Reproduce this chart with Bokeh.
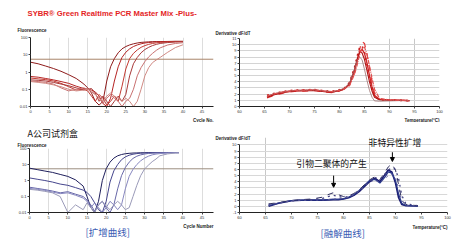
from bokeh.plotting import figure
from bokeh.layouts import column, row
from bokeh.models import (Title, FixedTicker, Range1d, Label, Arrow, NormalHead,
                          CustomJSTickFormatter)
from bokeh.embed import file_html
from bokeh.resources import INLINE

# ---------------- data ----------------
# Amplification plot (SYBR Green Realtime PCR Master Mix -Plus-)
cycles_a = [0, 2, 4, 6, 8, 10, 12, 14, 15, 16, 17, 18, 19, 20, 21, 22, 23, 24, 25, 26,
            27, 28, 29, 30, 31, 32, 33, 34, 36, 38, 40]
amp_plus_1 = [3.7, 3.0, 2.2, 1.6, 1.1, 0.7, 0.42, 0.2, 0.12, 0.06, 0.02, 0.012, 0.02, 0.3, 2.0, 6.0,
              13, 22, 30, 37, 43, 48, 52, 54, 56, 57, 58, 58, 59, 60, 60]
amp_plus_2 = [0.55, 0.5, 0.42, 0.35, 0.28, 0.22, 0.15, 0.11, 0.1, 0.09, 0.07, 0.04, 0.015, 0.01, 0.03, 0.3,
              2.0, 7.0, 14, 22, 30, 37, 43, 48, 51, 54, 56, 57, 58, 59, 59]
amp_plus_3 = [0.45, 0.4, 0.36, 0.3, 0.22, 0.14, 0.09, 0.1, 0.08, 0.04, 0.02, 0.05, 0.03, 0.012, 0.02, 0.04,
              0.02, 0.15, 1.5, 6.0, 12, 19, 27, 34, 40, 45, 49, 52, 55, 57, 58]
amp_plus_4 = [0.35, 0.33, 0.3, 0.25, 0.2, 0.16, 0.12, 0.09, 0.1, 0.11, 0.06, 0.02, 0.04, 0.02, 0.01, 0.02,
              0.04, 0.02, 0.05, 0.6, 3.0, 7.0, 13, 20, 27, 34, 40, 45, 51, 55, 57]
amp_plus_5 = [0.3, 0.28, 0.25, 0.2, 0.12, 0.08, 0.1, 0.12, 0.1, 0.07, 0.05, 0.03, 0.015, 0.03, 0.05, 0.03,
              0.02, 0.01, 0.02, 0.03, 0.1, 0.6, 1.8, 4.0, 7.5, 12, 18, 25, 37, 45, 50]
amp_plus_6 = [0.28, 0.25, 0.22, 0.18, 0.14, 0.1, 0.08, 0.09, 0.1, 0.08, 0.05, 0.03, 0.02, 0.04, 0.06, 0.04,
              0.03, 0.02, 0.03, 0.02, 0.01, 0.02, 0.1, 0.6, 1.8, 3.5, 5.0, 7.0, 14, 26, 38]
threshold_plus = 5.5

# Amplification plot (A company kit)
cycles_b = [0, 2, 4, 6, 8, 10, 12, 14, 15, 16, 17, 18, 19, 20, 21, 22, 23, 24, 25, 26,
            27, 28, 29, 30, 31, 32, 33, 34, 36, 38, 39]
amp_a_1 = [5.9, 4.8, 3.9, 3.2, 2.4, 1.8, 1.1, 0.45, 0.1, 0.02, 0.01, 0.05, 1.0, 5.4, 14, 25,
           35, 42, 47, 50, 52, 53, 54, 54, 55, 55, 55, 55, 56, 56, 56]
amp_a_2 = [1.45, 1.2, 1.0, 0.8, 0.6, 0.5, 0.36, 0.25, 0.18, 0.1, 0.04, 0.015, 0.01, 0.05, 0.8, 4.0,
           10, 20, 30, 38, 44, 48, 51, 53, 54, 55, 55, 55, 56, 56, 56]
amp_a_3 = [0.38, 0.32, 0.27, 0.22, 0.17, 0.2, 0.14, 0.1, 0.06, 0.03, 0.012, 0.03, 0.05, 0.02, 0.01, 0.03,
           0.3, 2.0, 6.5, 14, 24, 33, 40, 45, 49, 51, 53, 54, 55, 55, 55]
amp_a_4 = [0.32, 0.28, 0.24, 0.19, 0.15, 0.17, 0.12, 0.08, 0.05, 0.02, 0.04, 0.02, 0.01, 0.02, 0.05, 0.03,
           0.015, 0.03, 0.3, 1.8, 5.0, 10, 17, 25, 33, 40, 45, 48, 52, 54, 54]
amp_a_5 = [0.28, 0.25, 0.21, 0.17, 0.1, 0.01, 0.03, 0.015, 0.04, 0.02, 0.01, 0.03, 0.05, 0.025, 0.015, 0.03,
           0.05, 0.03, 0.015, 0.02, 0.1, 0.5, 2.0, 5.2, 9, 15, 22, 35, 46, 52, 53]
threshold_a = 5.4

# Melt curves (Plus)
temp_plus = [65.5, 67, 69, 71, 73, 75, 77, 78.5, 80, 81, 82, 83, 83.5, 84, 84.5, 85, 85.5, 86, 86.5,
             87, 88, 90, 92, 94]
melt_plus_1 = [1.6, 2.0, 2.35, 2.55, 2.6, 2.65, 2.45, 2.35, 2.6, 2.9, 3.6, 5.8, 7.3, 8.7, 9.3, 8.6, 7.0,
               5.0, 3.2, 1.8, 1.15, 1.05, 1.0, 0.95]
melt_plus_2 = [1.4, 1.8, 2.2, 2.45, 2.5, 2.55, 2.35, 2.25, 2.5, 2.8, 3.4, 5.5, 7.2, 9.2, 10.5, 10.2, 8.5,
               6.2, 4.0, 2.2, 1.2, 1.05, 1.0, 0.95]
melt_plus_3 = [1.8, 2.15, 2.45, 2.65, 2.7, 2.75, 2.55, 2.45, 2.7, 3.0, 3.9, 6.3, 8.0, 9.5, 9.8, 8.8, 6.8,
               4.6, 2.9, 1.6, 1.1, 1.0, 1.0, 0.95]
melt_plus_4 = [1.5, 1.9, 2.3, 2.5, 2.55, 2.6, 2.4, 2.3, 2.55, 2.85, 3.7, 6.0, 7.6, 8.8, 8.7, 7.6, 5.8,
               4.0, 2.5, 1.5, 1.1, 1.0, 1.0, 0.95]
melt_plus_5 = [1.7, 2.1, 2.4, 2.6, 2.65, 2.7, 2.5, 2.4, 2.65, 2.95, 3.8, 6.0, 7.4, 8.0, 7.6, 6.0, 4.2,
               2.6, 1.5, 0.9, 0.85, 0.9, 0.95, 0.95]
melt_plus_6 = [1.65, 2.05, 2.4, 2.6, 2.65, 2.7, 2.5, 2.4, 2.6, 2.85, 3.4, 5.2, 6.6, 8.3, 9.4, 9.6, 8.4,
               6.6, 4.6, 2.8, 1.3, 1.05, 1.0, 0.95]

# Melt curves (A company kit)
temp_a = [65.6, 67.5, 70, 72, 74, 76, 77, 78, 79, 80, 81, 82, 83, 84, 85, 86, 87, 88, 88.6, 89.3,
          90, 90.6, 91.2, 92, 94.3]
melt_a_1 = [0.0, 0.5, 0.9, 1.0, 1.0, 1.0, 1.05, 1.1, 1.1, 1.2, 1.4, 1.8, 2.4, 3.2, 4.0, 4.6, 4.0, 5.2,
            5.9, 5.6, 3.8, 1.4, 0.3, 0.1, 0.05]
melt_a_2 = [0.1, 0.55, 0.95, 1.0, 1.05, 1.05, 1.1, 1.15, 1.15, 1.25, 1.5, 1.9, 2.6, 3.4, 4.2, 4.4, 3.8,
            4.8, 5.6, 5.4, 4.2, 2.0, 0.5, 0.15, 0.05]
melt_a_3 = [0.4, 0.6, 0.95, 1.1, 1.2, 1.5, 1.9, 2.2, 1.9, 1.6, 1.7, 2.1, 2.7, 3.5, 4.3, 4.8, 4.3, 5.6,
            6.4, 6.9, 5.9, 3.5, 1.0, 0.3, 0.1]
melt_a_4 = [0.3, 0.55, 0.9, 1.05, 1.1, 1.3, 1.6, 1.8, 1.6, 1.45, 1.6, 2.0, 2.6, 3.3, 4.1, 4.7, 4.4, 5.3,
            5.9, 6.3, 6.0, 4.5, 1.8, 0.4, 0.1]
melt_a_5 = [0.2, 0.5, 0.9, 1.0, 1.0, 1.05, 1.1, 1.2, 1.2, 1.3, 1.5, 1.9, 2.5, 3.2, 3.9, 4.3, 3.9, 4.5,
            5.0, 5.2, 4.6, 3.0, 0.9, 0.2, 0.05]

cycle_ticks = [0, 5, 10, 15, 20, 25, 30, 35, 40, 45]
fluor_ticks = [0.01, 0.1, 1, 10, 100]
temp_ticks = [60, 65, 70, 75, 80, 85, 90, 95, 100]
deriv_ticks_plus = list(range(0, 12))
deriv_ticks_a = list(range(-1, 11))

# annotation anchors (data space of the lower melt plot)
dimer_text_at = (77.7, 7.0)
nonspec_text_at = (89.9, 10.35)
dimer_arrow = (78.1, 5.0, 3.1)
nonspec_arrow = (89.4, 8.8, 7.3)

# ---------------- styling helpers ----------------
FONT = "Liberation Sans"
CJK = "Noto Sans CJK SC"
TICK_FS = "4px"
LAB_FS = "4.5px"


def style(p, xticks, yticks):
    p.outline_line_color = None
    p.background_fill_color = "white"
    p.border_fill_color = "white"
    for ax in (p.xaxis[0], p.yaxis[0]):
        ax.axis_line_color = "#222222"
        ax.axis_line_width = 1
        ax.major_tick_line_color = "#444444"
        ax.major_tick_out = 2
        ax.major_tick_in = 0
        ax.minor_tick_line_color = None
        ax.major_label_text_font = FONT
        ax.major_label_text_font_size = TICK_FS
        ax.major_label_text_color = "#333333"
        ax.major_label_standoff = 1
        ax.axis_label = None
    p.xaxis[0].ticker = FixedTicker(ticks=xticks)
    p.yaxis[0].ticker = FixedTicker(ticks=yticks)
    p.xaxis[0].formatter = CustomJSTickFormatter(code="return String(tick);")
    p.yaxis[0].formatter = CustomJSTickFormatter(code="return String(tick);")


def title_props(t, text, align, offset, size, font, color, style_, standoff):
    t.text = text
    t.align = align
    t.offset = offset
    t.text_font = font
    t.text_font_size = size
    t.text_color = color
    t.text_font_style = style_
    t.standoff = standoff


def add_title(p, where, text, align="left", offset=0, size=LAB_FS, font=FONT, color="#222222",
              style_="bold", standoff=0):
    t = Title(text="")
    title_props(t, text, align, offset, size, font, color, style_, standoff)
    p.add_layout(t, where)


def make_fig(w, h, xr, yr, mb, log=False):
    kw = dict(width=w, height=h, output_backend="svg", toolbar_location=None,
              x_range=Range1d(*xr), y_range=Range1d(*yr),
              min_border_left=mb[0], min_border_right=mb[1],
              min_border_top=mb[2], min_border_bottom=mb[3])
    if log:
        kw["y_axis_type"] = "log"
    p = figure(**kw)
    try:
        p.frame_align = False
    except Exception:
        pass
    return p


# ---------------- top-left: amplification (Plus) ----------------
p1 = make_fig(215, 122, (0, 48), (0.01, 100), (30, 2, 37, 15), log=True)
style(p1, cycle_ticks, fluor_ticks)
p1.xgrid.ticker = FixedTicker(ticks=cycle_ticks)
p1.xgrid.grid_line_color = "#dddddd"
p1.ygrid.ticker = FixedTicker(ticks=[100])
p1.ygrid.grid_line_color = "#cccccc"
title_props(p1.title, "SYBR® Green Realtime PCR Master Mix -Plus-", "left", -3, "7.7px", FONT,
            "#e4241f", "bold", 7)
add_title(p1, "above", "Fluorescence", offset=-13, standoff=9)
add_title(p1, "below", "Cycle No.", align="right", standoff=0)
p1.line([0, 48], [threshold_plus, threshold_plus], color="#a8846a", line_width=1)
plus_cols = ["#8e1b1b", "#b52424", "#c23a32", "#a83a3a", "#c87070", "#d08a84"]
for ys, c in zip([amp_plus_1, amp_plus_2, amp_plus_3, amp_plus_4, amp_plus_5, amp_plus_6], plus_cols):
    p1.line(cycles_a, ys, color=c, line_width=1)

# ---------------- top-right: melt (Plus) ----------------
p2 = make_fig(239, 122, (60, 100), (0, 11), (24, 15, 38, 15))
style(p2, temp_ticks, deriv_ticks_plus)
p2.xgrid.ticker = FixedTicker(ticks=[90, 95])
p2.xgrid.grid_line_color = "#c8c8c8"
p2.ygrid.ticker = FixedTicker(ticks=deriv_ticks_plus)
p2.ygrid.grid_line_color = "#d4d4d4"
title_props(p2.title, "Derivative dF/dT", "left", -24, LAB_FS, FONT, "#222222", "bold", 5)
add_title(p2, "below", "Temperature(°C)", align="right", standoff=0)
melt_plus_styles = [("#d42a2a", "solid", 1.4), ("#e03a3a", "dashed", 1.2), ("#c81e1e", "dotted", 1.6),
                    ("#b01515", "solid", 1.1), ("#9a7070", "solid", 0.8), ("#e05050", "4 1 1 1", 1.2)]
for ys, (c, d, w) in zip([melt_plus_1, melt_plus_2, melt_plus_3, melt_plus_4, melt_plus_5, melt_plus_6],
                         melt_plus_styles):
    p2.line(temp_plus, ys, color=c, line_dash=d, line_width=w)

# ---------------- bottom-left: amplification (A company) ----------------
p3 = make_fig(215, 123, (0, 48), (0.01, 100), (29, 2, 26, 33), log=True)
style(p3, cycle_ticks, fluor_ticks)
p3.xgrid.ticker = FixedTicker(ticks=cycle_ticks)
p3.xgrid.grid_line_color = "#dddddd"
p3.ygrid.ticker = FixedTicker(ticks=[100])
p3.ygrid.grid_line_color = "#cccccc"
title_props(p3.title, "A公司试剂盒", "left", -2, "9px", CJK, "#111111", "normal", 0)
add_title(p3, "above", "Fluorescence", offset=-12, standoff=2)
add_title(p3, "below", "Cycle Number", align="right", standoff=1)
add_title(p3, "below", "[扩增曲线]", align="left", offset=56, size="9.5px", font=CJK,
          color="#3a5cb4", style_="normal", standoff=-13)
p3.line([0, 48], [threshold_a, threshold_a], color="#9c8e80", line_width=1)
a_cols = ["#1f1f5c", "#45458c", "#6868a8", "#8787bf", "#9a9ab8"]
for ys, c in zip([amp_a_1, amp_a_2, amp_a_3, amp_a_4, amp_a_5], a_cols):
    p3.line(cycles_b, ys, color=c, line_width=1)

# ---------------- bottom-right: melt (A company) ----------------
p4 = make_fig(239, 123, (60, 100), (-1, 11.2), (24, 7, 15, 33))
style(p4, temp_ticks, deriv_ticks_a)
p4.yaxis[0].bounds = (-1, 10)
p4.xgrid.ticker = FixedTicker(ticks=[65, 85])
p4.xgrid.grid_line_color = "#c8c8c8"
p4.ygrid.ticker = FixedTicker(ticks=deriv_ticks_a)
p4.ygrid.grid_line_color = "#d8d8d8"
title_props(p4.title, "Derivative dF/dT", "left", -24, LAB_FS, FONT, "#222222", "bold", -7)
add_title(p4, "below", "Temperature(°C)", align="right", standoff=2)
add_title(p4, "below", "[融解曲线]", align="left", offset=81, size="9.5px", font=CJK,
          color="#3a5cb4", style_="normal", standoff=-13)
melt_a_styles = [("#1a1a70", "solid", 1.6), ("#2b3a8c", "solid", 1.2), ("#303060", "dashed", 1.0),
                 ("#404080", "dotted", 1.3), ("#5a5a9a", "dotted", 1.0)]
for ys, (c, d, w) in zip([melt_a_1, melt_a_2, melt_a_3, melt_a_4, melt_a_5], melt_a_styles):
    p4.line(temp_a, ys, color=c, line_dash=d, line_width=w)

# annotations
p4.add_layout(Label(x=dimer_text_at[0], y=dimer_text_at[1], text="引物二聚体的产生",
                    text_align="center", text_baseline="middle", text_font=CJK,
                    text_font_size="8.8px", text_color="#111111"))
p4.add_layout(Label(x=nonspec_text_at[0], y=nonspec_text_at[1], text="非特异性扩增",
                    text_align="center", text_baseline="middle", text_font=CJK,
                    text_font_size="8.8px", text_color="#111111"))
p4.add_layout(Arrow(end=NormalHead(size=4, fill_color="black", line_color="black"),
                    x_start=dimer_arrow[0], y_start=dimer_arrow[1], x_end=dimer_arrow[0],
                    y_end=dimer_arrow[2], line_color="black", line_width=1))
p4.add_layout(Arrow(end=NormalHead(size=4, fill_color="black", line_color="black"),
                    x_start=nonspec_arrow[0], y_start=nonspec_arrow[1], x_end=nonspec_arrow[0],
                    y_end=nonspec_arrow[2], line_color="black", line_width=1))

layout = column(row(p1, p2), row(p3, p4))
open("out.html", "w").write(file_html(layout, INLINE))
